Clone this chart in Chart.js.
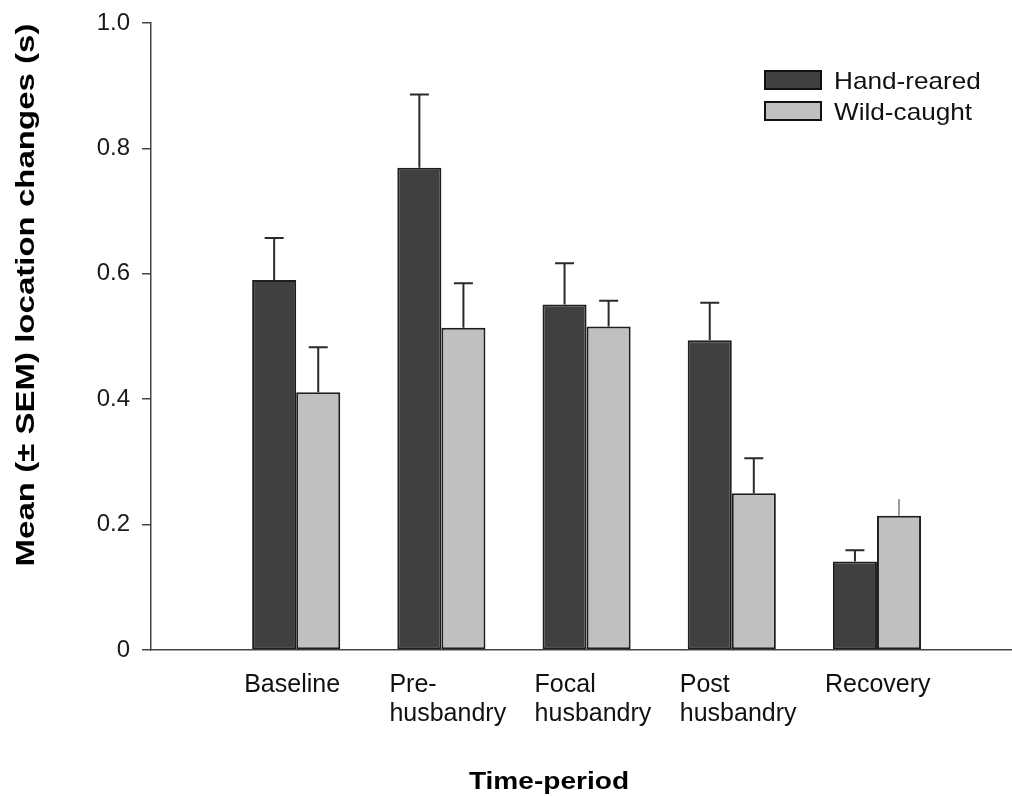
<!DOCTYPE html>
<html>
<head>
<meta charset="utf-8">
<script src="https://cdn.jsdelivr.net/npm/chart.js@4/dist/chart.umd.min.js"></script>
<style>
  html, body { margin: 0; padding: 0; background: #ffffff; }
  #wrap { width: 1012px; height: 796px; position: relative; }
</style>
</head>
<body>
<div id="wrap"><canvas id="chart"></canvas></div>
<script>
// Time periods along the x axis
const categories = ['Baseline', ['Pre-', 'husbandry'], ['Focal', 'husbandry'], ['Post', 'husbandry'], 'Recovery'];

// Mean location changes (s) and their SEM
const handReared    = [0.590, 0.769, 0.551, 0.494, 0.141];
const handRearedSem = [0.067, 0.117, 0.066, 0.060, 0.018];
const wildCaught    = [0.411, 0.514, 0.516, 0.250, 0.214];
const wildCaughtSem = [0.072, 0.071, 0.041, 0.056, 0.027];

const seriesNames = ['Hand-reared', 'Wild-caught'];
const yTickLabels = ['0', '0.2', '0.4', '0.6', '0.8', '1.0'];

// ---- styling ----
const FONT = "'Liberation Sans', Arial, Helvetica, sans-serif";
const fills = ['#404040', '#c0c0c0'];
const edge = '#1e1e1e';
const axisColor = '#444444';
const capFlags = [[true, true, true, true, true], [true, true, true, true, false]];

const toPoints = arr => arr.map((v, i) => ({ x: i + 1, y: v }));
const semSets = [handRearedSem, wildCaughtSem];

// upward SEM whiskers
const errorBars = {
  id: 'errorBars',
  afterDatasetsDraw(chart) {
    const ctx = chart.ctx;
    const yScale = chart.scales.y;
    chart.data.datasets.forEach((ds, di) => {
      const meta = chart.getDatasetMeta(di);
      meta.data.forEach((bar, i) => {
        const mean = ds.data[i].y;
        const top = yScale.getPixelForValue(mean + semSets[di][i]);
        const capped = capFlags[di][i];
        ctx.save();
        ctx.strokeStyle = capped ? '#2a2a2a' : '#666666';
        ctx.lineWidth = capped ? 2 : 1.3;
        ctx.beginPath();
        ctx.moveTo(bar.x, bar.y);
        ctx.lineTo(bar.x, top);
        if (capped) {
          ctx.moveTo(bar.x - 9.5, top);
          ctx.lineTo(bar.x + 9.5, top);
        }
        ctx.stroke();
        ctx.restore();
      });
    });
  }
};

function wideText(ctx, text, x, y, sx, rot) {
  ctx.save();
  ctx.translate(x, y);
  if (rot) ctx.rotate(rot);
  ctx.scale(sx, 1);
  ctx.fillText(text, 0, 0);
  ctx.restore();
}

// legend box and axis titles
const annotations = {
  id: 'annotations',
  afterDraw(chart) {
    const ctx = chart.ctx;
    ctx.save();
    // legend
    chart.data.datasets.forEach((ds, i) => {
      const bx = 765, by = 71 + i * 31;
      ctx.fillStyle = ds.backgroundColor;
      ctx.fillRect(bx, by, 56, 18);
      ctx.strokeStyle = '#111111';
      ctx.lineWidth = 2;
      ctx.strokeRect(bx, by, 56, 18);
      ctx.fillStyle = '#111111';
      ctx.font = '24px ' + FONT;
      ctx.textAlign = 'left';
      ctx.textBaseline = 'alphabetic';
      wideText(ctx, ds.label, 834, by + 18, 1.09, 0);
    });
    // axis titles
    ctx.fillStyle = '#000000';
    ctx.textAlign = 'center';
    ctx.textBaseline = 'alphabetic';
    ctx.font = 'bold 24px ' + FONT;
    wideText(ctx, 'Time-period', 549, 789, 1.17, 0);
    ctx.font = 'bold 26px ' + FONT;
    wideText(ctx, 'Mean (\u00b1 SEM) location changes (s)', 34, 295, 1.27, -Math.PI / 2);
    ctx.restore();
  }
};

new Chart(document.getElementById('chart'), {
  type: 'bar',
  data: {
    datasets: [
      {
        label: seriesNames[0],
        data: toPoints(handReared),
        backgroundColor: fills[0],
        borderColor: edge,
        borderWidth: 2,
        borderSkipped: false
      },
      {
        label: seriesNames[1],
        data: toPoints(wildCaught),
        backgroundColor: fills[1],
        borderColor: edge,
        borderWidth: 2,
        borderSkipped: false
      }
    ]
  },
  options: {
    responsive: true,
    maintainAspectRatio: false,
    animation: false,
    layout: { padding: { top: 23, right: 0, bottom: 0, left: 0 } },
    datasets: { bar: { categoryPercentage: 0.607, barPercentage: 1.0 } },
    plugins: {
      legend: { display: false },
      tooltip: { enabled: false }
    },
    scales: {
      x: {
        type: 'linear',
        min: 0,
        max: 5.93,
        offset: false,
        grid: { display: false, offset: false },
        border: { display: true, color: axisColor, width: 1.5 },
        ticks: {
          stepSize: 1,
          includeBounds: false,
          autoSkip: false,
          maxRotation: 0,
          minRotation: 0,
          align: 'start',
          padding: 13,
          labelOffset: -52,
          color: '#111111',
          font: { family: FONT, size: 25, lineHeight: 1.16 },
          callback: v => (Number.isInteger(v) && v >= 1 && v <= categories.length) ? categories[v - 1] : ''
        },
        afterFit(scale) { scale.height = 146; scale.paddingLeft = 0; scale.paddingRight = 0; }
      },
      y: {
        min: 0,
        max: 1,
        grid: { display: true, drawOnChartArea: false, drawTicks: true, tickLength: 9, color: axisColor, lineWidth: 1.5 },
        border: { display: true, color: axisColor, width: 1.5 },
        ticks: {
          stepSize: 0.2,
          padding: 12,
          color: '#1a1a1a',
          font: { family: FONT, size: 24 },
          callback: (v, i) => yTickLabels[i]
        },
        afterFit(scale) { scale.width = 151; scale.paddingTop = 0; scale.paddingBottom = 0; }
      }
    }
  },
  plugins: [errorBars, annotations]
});
</script>
</body>
</html>
